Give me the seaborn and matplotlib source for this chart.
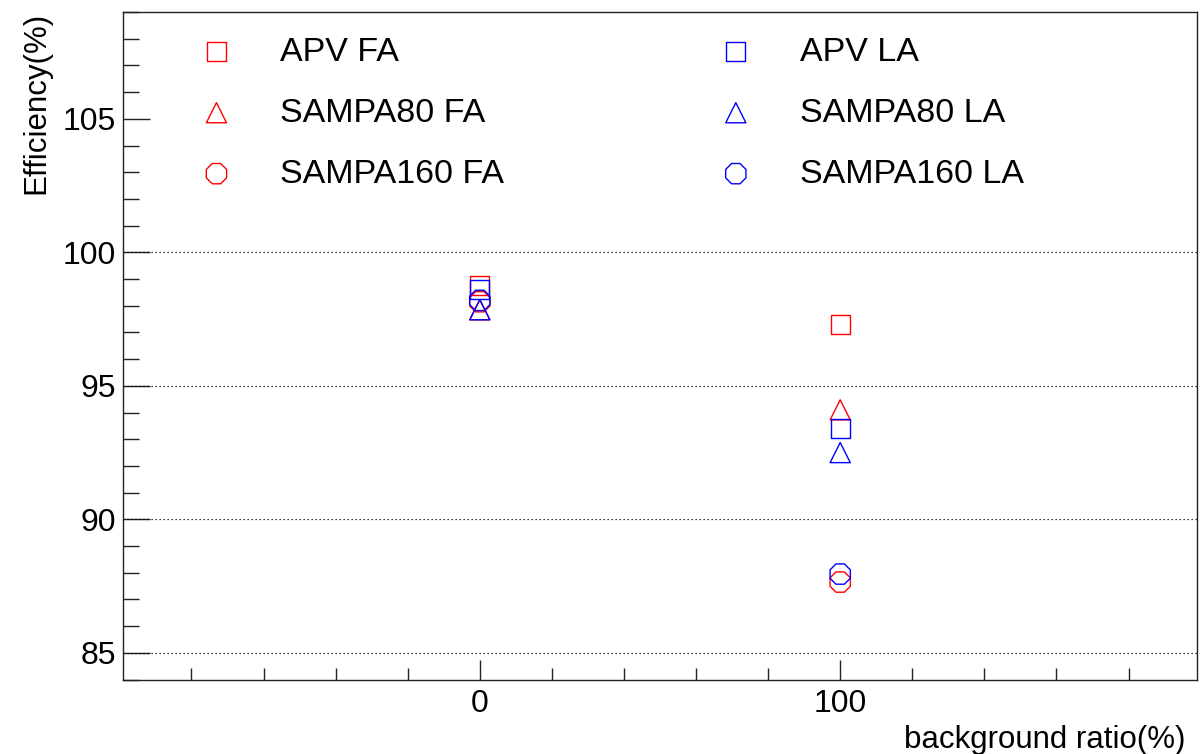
import numpy as np
import pandas as pd
import seaborn as sns
import matplotlib.pyplot as plt
from matplotlib.ticker import MultipleLocator

# values
background_ratio = [0, 100]
apv_fa = [98.75, 97.3]
sampa80_fa = [97.85, 94.1]
sampa160_fa = [98.15, 87.65]
apv_la = [98.6, 93.4]
sampa80_la = [97.85, 92.5]
sampa160_la = [98.2, 87.95]

series_labels = ["APV FA", "SAMPA80 FA", "SAMPA160 FA",
                 "APV LA", "SAMPA80 LA", "SAMPA160 LA"]
series_values = [apv_fa, sampa80_fa, sampa160_fa,
                 apv_la, sampa80_la, sampa160_la]
series_colors = ["#ff0000"] * 3 + ["#0000ff"] * 3
series_markers = ["s", "^", "8"] * 2
marker_sizes = {"s": 190, "^": 210, "8": 250}

sns.set_style("ticks")
plt.rcParams["font.family"] = ["Liberation Sans", "DejaVu Sans"]
plt.rcParams["text.color"] = "black"
plt.rcParams["axes.labelcolor"] = "black"

fig = plt.figure(figsize=(12, 7.54), dpi=100)
ax = fig.add_axes([0.1025, 0.0988, 0.895, 0.8852])

for label, vals, col, mk in zip(series_labels, series_values, series_colors, series_markers):
    df = pd.DataFrame({"ratio": background_ratio, "eff": vals})
    sns.scatterplot(data=df, x="ratio", y="eff", ax=ax, marker=mk,
                    s=marker_sizes[mk], facecolor="none", edgecolor=col,
                    linewidth=1.0, label=label, zorder=3)

ax.set_xlim(-99, 199)
ax.set_ylim(84, 109)

ax.xaxis.set_major_locator(MultipleLocator(100))
ax.xaxis.set_minor_locator(MultipleLocator(20))
ax.yaxis.set_major_locator(MultipleLocator(5))
ax.yaxis.set_minor_locator(MultipleLocator(1))

ax.tick_params(axis="both", which="both", direction="in", color="#222222",
               width=1.0, labelsize=23, labelcolor="black")
ax.tick_params(axis="x", which="major", length=14.5, pad=7)
ax.tick_params(axis="x", which="minor", length=8.5)
ax.tick_params(axis="y", which="major", length=19.5, pad=5)
ax.tick_params(axis="y", which="minor", length=11.5)

for sp in ax.spines.values():
    sp.set_color("#222222")
    sp.set_linewidth(1.0)

# dotted grid at the major levels below the legend
grid_levels = [85, 90, 95, 100]
ax.hlines(grid_levels, -99, 199, colors="black", linestyles=(0, (1, 2.2)),
          linewidth=0.9, zorder=1)

ax.set_xlabel("background ratio(%)", fontsize=22.5, loc="right")
ax.xaxis.set_label_coords(0.989, -0.068)
ax.set_ylabel("Efficiency(%)", fontsize=22.5, loc="top", labelpad=8)

leg = ax.legend(ncol=2, loc="upper left", bbox_to_anchor=(0.0585, 0.9835),
                fontsize=24.5, frameon=False, handlelength=1.0,
                handletextpad=1.38, columnspacing=6.3, labelspacing=0.88,
                borderpad=0.4, borderaxespad=0)

fig.savefig("out.png", dpi=100)
